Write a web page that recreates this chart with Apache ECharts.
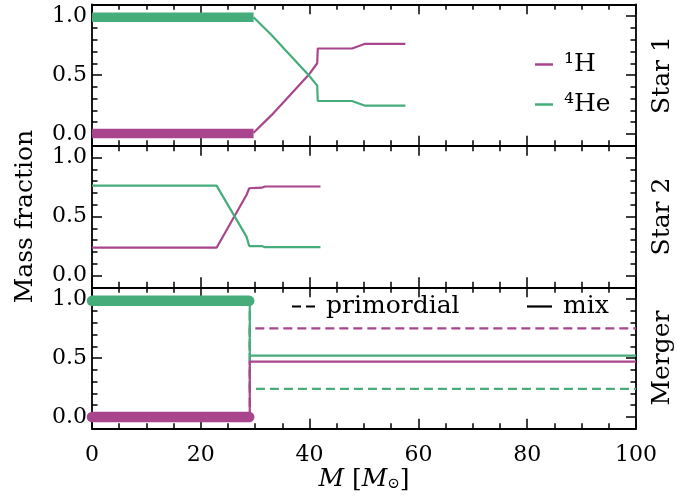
<!DOCTYPE html>
<html>
<head>
<meta charset="utf-8">
<script src="https://cdn.jsdelivr.net/npm/echarts@6/dist/echarts.min.js"></script>
<style>
  html, body { margin: 0; padding: 0; background: #fff; }
  #main { width: 696px; height: 497px; }
</style>
</head>
<body>
<div id="main"></div>
<script>
// star 1: thick core part + thin envelope part
const star1CoreM = [0, 29.7]
const star1CoreH = [0.005, 0.005]
const star1CoreHe = [0.99, 0.99]
const star1M = [29.7, 33, 36, 39.8, 41.4, 41.5, 47.8, 50.2, 57.6]
const star1H = [0.01, 0.16, 0.31, 0.5, 0.6, 0.725, 0.725, 0.765, 0.765]
const star1He = [0.99, 0.84, 0.69, 0.5, 0.41, 0.28, 0.28, 0.24, 0.24]

// star 2
const star2M = [0, 22.9, 28.4, 28.9, 31.2, 31.8, 42]
const star2H = [0.236, 0.236, 0.683, 0.74, 0.745, 0.755, 0.755]
const star2He = [0.762, 0.762, 0.33, 0.25, 0.25, 0.24, 0.24]

// merger
const mergerCoreM = [0, 28.9]
const mergerCoreH = [0, 0]
const mergerCoreHe = [0.985, 0.985]
const mergerM = [0, 29, 29, 100]
const primordialH = [0, 0, 0.752, 0.752]
const primordialHe = [0.985, 0.985, 0.238, 0.238]
const mixH = [0, 0, 0.47, 0.47]
const mixHe = [0.985, 0.985, 0.52, 0.52]

const xTicks = [0, 20, 40, 60, 80, 100]
const yTicks = [0, 0.5, 1]
const panelNames = ['Star 1', 'Star 2', 'Merger']

const FONT = 'DejaVu Serif'
const H_COLOR = '#A8458C'
const HE_COLOR = '#45AC7A'
const tops = [4.3, 145.8, 287.3]
const PANEL_H = 141.5

const chart = echarts.init(document.getElementById('main'))

const pts = (xs, ys) => xs.map((x, i) => [x, ys[i]])
const tickStyle = { color: '#000', width: 1.5 }
const lineAxis = { show: true, onZero: false, lineStyle: { color: '#000', width: 1.8 } }

const grids = []
const xAxes = []
const yAxes = []
// main panels, then overlay panels (same boxes) for the long y ticks
tops.forEach(t => grids.push({ left: 92, width: 544, top: t, height: PANEL_H }))
tops.forEach(t => grids.push({ left: 92, width: 544, top: t, height: PANEL_H }))

for (let i = 0; i < 3; i++) {
  ;['bottom', 'top'].forEach(pos => {
    const isLast = i === 2 && pos === 'bottom'
    xAxes.push({
      gridIndex: i, type: 'value', min: 0, max: 100, interval: 20, position: pos,
      axisLine: lineAxis,
      axisTick: { show: true, inside: true, length: 10, lineStyle: tickStyle },
      minorTick: { show: true, splitNumber: 4, length: 5.5, lineStyle: tickStyle },
      splitLine: { show: false },
      axisLabel: {
        show: isLast, customValues: xTicks, margin: 15,
        fontFamily: FONT, fontSize: 22, color: '#000'
      },
      name: isLast ? '{i|M} [{i|M}{s|⊙}]' : '',
      nameLocation: 'middle', nameGap: 30,
      nameTextStyle: {
        fontFamily: FONT, fontSize: 25, color: '#000',
        rich: {
          i: { fontFamily: FONT, fontSize: 25, fontStyle: 'italic', color: '#000' },
          s: { fontFamily: FONT, fontSize: 15, color: '#000', verticalAlign: 'bottom', padding: [9, 0, 0, 0] }
        }
      }
    })
  })
  ;['left', 'right'].forEach(pos => {
    yAxes.push({
      gridIndex: i, type: 'value', min: -0.1, max: 1.1, interval: 0.1, position: pos,
      axisLine: lineAxis,
      axisTick: { show: true, inside: true, length: 5.5, lineStyle: tickStyle },
      splitLine: { show: false },
      axisLabel: {
        show: pos === 'left', customValues: yTicks, margin: 5,
        formatter: v => v.toFixed(1),
        fontFamily: FONT, fontSize: 22, color: '#000'
      },
      name: pos === 'right' ? panelNames[i] : (i === 1 ? 'Mass fraction' : ''),
      nameLocation: 'middle', nameRotate: 90,
      nameGap: pos === 'right' ? 14 : 54,
      nameTextStyle: { fontFamily: FONT, fontSize: 25, color: '#000' }
    })
  })
}
for (let i = 0; i < 3; i++) {
  xAxes.push({ gridIndex: 3 + i, type: 'value', min: 0, max: 100, show: false })
  ;['left', 'right'].forEach(pos => {
    yAxes.push({
      gridIndex: 3 + i, type: 'value', min: -0.1, max: 1.1, position: pos,
      axisLine: { show: false, onZero: false },
      axisTick: { show: true, inside: true, length: 10, customValues: yTicks, lineStyle: tickStyle },
      axisLabel: { show: false },
      splitLine: { show: false }
    })
  })
}

const line = (name, panel, xs, ys, color, width, extra) => Object.assign({
  type: 'line', name, xAxisIndex: panel * 2, yAxisIndex: panel * 2,
  data: pts(xs, ys), symbol: 'none', silent: true,
  lineStyle: { color, width, cap: 'butt' }, itemStyle: { color }
}, extra || {})

const series = [
  line('¹H', 0, star1M, star1H, H_COLOR, 2.2),
  line('⁴He', 0, star1M, star1He, HE_COLOR, 2.2),
  line('H core 1', 0, star1CoreM, star1CoreH, H_COLOR, 9.5),
  line('He core 1', 0, star1CoreM, star1CoreHe, HE_COLOR, 9.5),
  line('H star 2', 1, star2M, star2H, H_COLOR, 2.2),
  line('He star 2', 1, star2M, star2He, HE_COLOR, 2.2),
  line('primordial', 2, mergerM, primordialH, H_COLOR, 2.2, { lineStyle: { color: H_COLOR, width: 2.2, type: [9, 5] } }),
  line('primordial', 2, mergerM, primordialHe, HE_COLOR, 2.2, { lineStyle: { color: HE_COLOR, width: 2.2, type: [9, 5] } }),
  line('mix', 2, mergerM, mixHe, HE_COLOR, 2.2),
  line('mix', 2, mergerM, mixH, H_COLOR, 2.2),
  line('H core m', 2, mergerCoreM, mergerCoreH, H_COLOR, 10.5, { lineStyle: { color: H_COLOR, width: 10.5, cap: 'round' } }),
  line('He core m', 2, mergerCoreM, mergerCoreHe, HE_COLOR, 10.5, { lineStyle: { color: HE_COLOR, width: 10.5, cap: 'round' } })
]

const legendText = { fontFamily: FONT, fontSize: 25, color: '#000', padding: [0, 0, 0, 6] }
const option = {
  animation: false,
  grid: grids,
  xAxis: xAxes,
  yAxis: yAxes,
  legend: [
    {
      data: ['¹H', '⁴He'], orient: 'vertical', left: 530, top: 47,
      icon: 'rect', itemWidth: 18, itemHeight: 2.5, itemGap: 15, selectedMode: false,
      textStyle: legendText
    },
    {
      data: ['primordial'], left: 287, top: 289,
      icon: 'path://M0,0h9v2h-9z M14,0h9v2h-9z', itemWidth: 23, itemHeight: 2,
      itemStyle: { color: '#000' }, selectedMode: false, textStyle: legendText
    },
    {
      data: ['mix'], left: 522, top: 289,
      icon: 'rect', itemWidth: 25, itemHeight: 2.2,
      itemStyle: { color: '#000' }, selectedMode: false, textStyle: legendText
    }
  ],
  series
}
chart.setOption(option)
</script>
</body>
</html>
